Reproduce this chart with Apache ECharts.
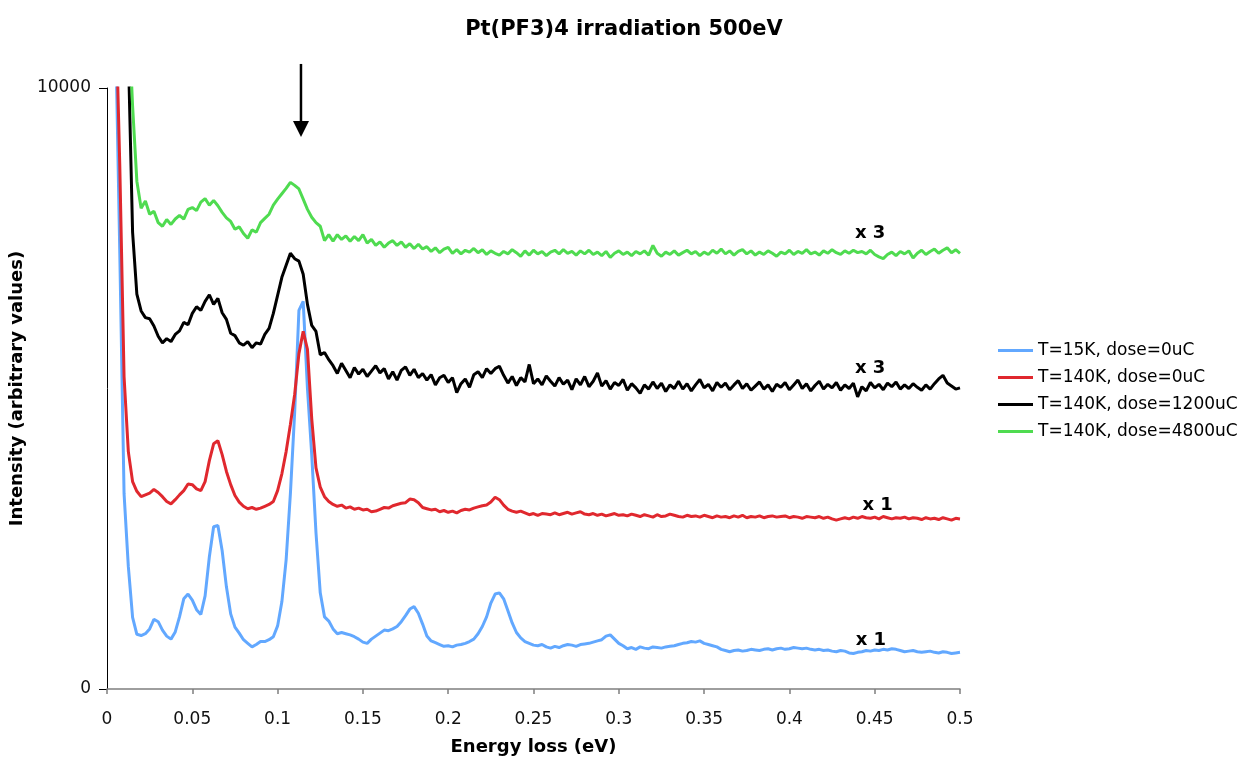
<!DOCTYPE html>
<html>
<head>
<meta charset="utf-8">
<script src="https://cdn.jsdelivr.net/npm/echarts@6/dist/echarts.min.js"></script>
<style>html,body{margin:0;padding:0;background:#fff;}#c{width:1248px;height:758px;}</style>
</head>
<body>
<div id="c"></div>
<script>
const energy = [
0.005,0.0075,0.01,0.0125,0.015,0.0175,0.02,0.0225,0.025,0.0275,
0.03,0.0325,0.035,0.0375,0.04,0.0425,0.045,0.0475,0.05,0.0525,
0.055,0.0575,0.06,0.0625,0.065,0.0675,0.07,0.0725,0.075,0.0775,
0.08,0.0825,0.085,0.0875,0.09,0.0925,0.095,0.0975,0.1,0.1025,
0.105,0.1075,0.11,0.1125,0.115,0.1175,0.12,0.1225,0.125,0.1275,
0.13,0.1325,0.135,0.1375,0.14,0.1425,0.145,0.1475,0.15,0.1525,
0.155,0.1575,0.16,0.1625,0.165,0.1675,0.17,0.1725,0.175,0.1775,
0.18,0.1825,0.185,0.1875,0.19,0.1925,0.195,0.1975,0.2,0.2025,
0.205,0.2075,0.21,0.2125,0.215,0.2175,0.22,0.2225,0.225,0.2275,
0.23,0.2325,0.235,0.2375,0.24,0.2425,0.245,0.2475,0.25,0.2525,
0.255,0.2575,0.26,0.2625,0.265,0.2675,0.27,0.2725,0.275,0.2775,
0.28,0.2825,0.285,0.2875,0.29,0.2925,0.295,0.2975,0.3,0.3025,
0.305,0.3075,0.31,0.3125,0.315,0.3175,0.32,0.3225,0.325,0.3275,
0.33,0.3325,0.335,0.3375,0.34,0.3425,0.345,0.3475,0.35,0.3525,
0.355,0.3575,0.36,0.3625,0.365,0.3675,0.37,0.3725,0.375,0.3775,
0.38,0.3825,0.385,0.3875,0.39,0.3925,0.395,0.3975,0.4,0.4025,
0.405,0.4075,0.41,0.4125,0.415,0.4175,0.42,0.4225,0.425,0.4275,
0.43,0.4325,0.435,0.4375,0.44,0.4425,0.445,0.4475,0.45,0.4525,
0.455,0.4575,0.46,0.4625,0.465,0.4675,0.47,0.4725,0.475,0.4775,
0.48,0.4825,0.485,0.4875,0.49,0.4925,0.495,0.4975,0.5
];

const blue15K = [
11000,7250,3250,2040,1190,910,890,920,1000,1160,
1120,980,880,830,950,1200,1500,1580,1480,1320,
1240,1550,2200,2700,2720,2300,1700,1250,1030,930,
820,760,700,740,790,790,820,870,1050,1450,
2150,3250,4600,6300,6450,5000,3900,2600,1600,1200,
1130,1000,920,940,920,900,870,830,780,760,
830,880,930,980,970,1000,1040,1120,1220,1330,
1370,1260,1080,880,800,770,740,710,720,700,
730,740,760,790,830,920,1040,1200,1430,1580,
1600,1500,1300,1100,940,850,790,760,730,720,
740,700,680,710,690,720,740,730,710,740,
750,760,780,800,820,880,900,830,760,720,
670,690,660,700,680,670,700,690,680,700,
710,720,740,760,770,790,780,800,760,740,
720,700,660,640,620,640,650,630,640,660,
650,640,660,670,650,670,680,660,670,690,
680,670,680,660,650,660,640,650,630,620,
640,630,600,590,610,620,640,630,650,640,
660,650,670,660,640,620,630,640,620,610,
620,630,610,600,620,610,590,600,610
];

const red140K = [
11500,8700,5200,3950,3450,3290,3200,3230,3260,3320,
3270,3200,3120,3080,3150,3230,3300,3410,3400,3330,
3300,3450,3800,4080,4130,3900,3620,3400,3220,3110,
3040,3000,3020,2990,3010,3040,3070,3120,3300,3580,
3950,4400,4900,5580,5950,5650,4500,3680,3360,3200,
3120,3070,3040,3060,3010,3030,2990,3010,2980,2990,
2950,2960,2990,3020,3010,3050,3070,3090,3100,3160,
3150,3100,3020,3000,2980,2990,2950,2970,2940,2960,
2930,2970,2990,2980,3010,3030,3050,3060,3110,3190,
3150,3060,2990,2960,2940,2960,2930,2900,2920,2890,
2920,2910,2900,2930,2900,2920,2940,2910,2930,2950,
2910,2900,2920,2890,2910,2880,2900,2920,2890,2900,
2880,2910,2890,2870,2900,2880,2860,2900,2870,2880,
2910,2890,2870,2860,2890,2870,2880,2860,2890,2870,
2850,2880,2860,2870,2850,2880,2860,2890,2850,2870,
2860,2880,2850,2870,2880,2860,2870,2880,2850,2870,
2860,2840,2870,2860,2850,2870,2840,2860,2830,2810,
2830,2850,2830,2860,2840,2870,2850,2840,2860,2830,
2870,2850,2830,2850,2840,2860,2830,2850,2840,2820,
2850,2830,2840,2820,2850,2830,2810,2840,2830
];

const black1200 = [
30000,22000,15000,10600,7600,6570,6290,6180,6160,6040,
5870,5760,5830,5780,5900,5960,6100,6060,6250,6360,
6300,6450,6560,6400,6500,6260,6150,5920,5880,5760,
5720,5780,5680,5760,5740,5900,6000,6250,6550,6850,
7050,7250,7160,7120,6900,6400,6050,5950,5560,5600,
5480,5380,5250,5420,5300,5180,5350,5240,5320,5200,
5290,5380,5260,5330,5160,5280,5140,5300,5360,5220,
5320,5180,5250,5140,5230,5060,5180,5220,5100,5180,
4930,5080,5160,5020,5230,5280,5180,5330,5250,5330,
5370,5220,5090,5200,5050,5180,5110,5400,5080,5160,
5060,5210,5120,5040,5180,5070,5140,4980,5160,5060,
5200,5030,5120,5260,5040,5130,4990,5100,5050,5150,
4970,5080,5010,4920,5060,4990,5110,5000,5090,4950,
5060,5000,5120,4990,5080,4960,5060,5150,5010,5070,
4960,5100,5020,5090,4980,5060,5130,5000,5080,4970,
5040,5110,4990,5060,4950,5070,5020,5100,4980,5060,
5140,5000,5080,4960,5050,5120,4990,5070,5010,5100,
4970,5060,5000,5090,4860,5030,4960,5100,5010,5070,
4980,5090,5030,5110,4990,5060,5000,5080,5020,4970,
5060,4990,5080,5160,5220,5090,5040,4990,5010
];

const green4800 = [
30000,22000,16000,11300,9700,8450,8000,8120,7900,7950,
7760,7700,7810,7730,7820,7880,7820,7980,8010,7960,
8100,8160,8050,8130,8040,7930,7840,7780,7650,7690,
7580,7500,7640,7600,7760,7830,7900,8050,8150,8240,
8330,8430,8380,8320,8150,7980,7850,7760,7700,7460,
7560,7450,7560,7480,7540,7450,7530,7460,7560,7420,
7480,7380,7440,7350,7420,7460,7380,7440,7350,7410,
7330,7400,7320,7360,7280,7340,7260,7320,7350,7250,
7310,7240,7300,7270,7330,7260,7310,7230,7290,7250,
7220,7280,7240,7310,7260,7200,7290,7220,7300,7240,
7280,7210,7270,7300,7240,7310,7250,7280,7220,7290,
7240,7300,7230,7270,7210,7280,7180,7250,7290,7230,
7270,7210,7280,7240,7290,7220,7380,7250,7200,7270,
7230,7290,7220,7260,7300,7240,7280,7210,7270,7230,
7300,7250,7320,7240,7290,7220,7280,7310,7240,7290,
7220,7270,7230,7290,7250,7200,7270,7240,7300,7230,
7280,7250,7310,7240,7270,7220,7290,7250,7310,7260,
7230,7290,7250,7300,7260,7280,7240,7300,7230,7190,
7160,7230,7270,7210,7280,7240,7290,7170,7250,7300,
7230,7280,7320,7250,7300,7340,7260,7310,7250
];

const seriesNames = ['T=15K, dose=0uC','T=140K, dose=0uC','T=140K, dose=1200uC','T=140K, dose=4800uC'];
const seriesValues = [blue15K, red140K, black1200, green4800];
const seriesColors = ['#62a8ff','#e0282e','#000000','#4fdb50'];

const yTicks = [0, 10000];
const xMin = 0, xMax = 0.5, xStep = 0.05;

// annotations in data coordinates
const notes = [
  {text:'x 3', x:0.4473, y:7588},
  {text:'x 3', x:0.4473, y:5342},
  {text:'x 1', x:0.4517, y:3062},
  {text:'x 1', x:0.4478, y:815}
];
const arrowX = 0.1137, arrowTop = 10400, arrowHeadBase = 9450, arrowTip = 9185;

const FONT = 'DejaVu Sans';
const chart = echarts.init(document.getElementById('c'));

const option = {
  animation:false,
  backgroundColor:'#fff',
  title:{
    text:'Pt(PF3)4 irradiation 500eV',
    left:'center', top:14,
    textStyle:{fontFamily:FONT, fontSize:21, fontWeight:'bold', color:'#000'}
  },
  legend:{
    orient:'vertical', left:998, top:342, padding:0,
    itemWidth:35, itemHeight:3, itemGap:10, icon:'rect',
    textStyle:{fontFamily:FONT, fontSize:17, color:'#000', lineHeight:17},
    data:seriesNames
  },
  grid:{left:107, right:288, top:88, bottom:69, containLabel:false, outerBoundsMode:'none'},
  xAxis:{
    type:'value', min:xMin, max:xMax, interval:xStep,
    name:'Energy loss (eV)', nameLocation:'middle', nameGap:49,
    nameTextStyle:{fontFamily:FONT, fontSize:18, fontWeight:'bold', color:'#000'},
    axisLine:{show:true, onZero:false, lineStyle:{color:'#7f7f7f', width:1.5}},
    axisTick:{show:true, length:5, lineStyle:{color:'#7f7f7f', width:1.5}},
    axisLabel:{fontFamily:FONT, fontSize:17, color:'#111', margin:22},
    splitLine:{show:false}
  },
  yAxis:{
    type:'value', min:yTicks[0], max:yTicks[1], interval:yTicks[1]-yTicks[0],
    name:'Intensity (arbitrary values)', nameLocation:'middle', nameGap:69,
    nameTextStyle:{fontFamily:FONT, fontSize:18, fontWeight:'bold', color:'#000'},
    axisLine:{show:true, onZero:false, lineStyle:{color:'#000', width:1}},
    axisTick:{show:true, length:8, lineStyle:{color:'#000', width:1}},
    axisLabel:{fontFamily:FONT, fontSize:17, color:'#111', margin:16, formatter:v => String(v)},
    splitLine:{show:false}
  },
  series: seriesNames.map((n, k) => ({
    name:n, type:'line', showSymbol:false, symbol:'none', clip:true,
    color:seriesColors[k],
    lineStyle:{color:seriesColors[k], width:3},
    data: energy.map((e, i) => [e, seriesValues[k][i]])
  }))
};
chart.setOption(option);

function px(x, y){ return chart.convertToPixel({gridIndex:0}, [x, y]); }
const graphics = [];
notes.forEach(n => {
  const p = px(n.x, n.y);
  graphics.push({type:'text', x:p[0], y:p[1], silent:true,
    style:{text:n.text, fontFamily:FONT, fontSize:18, fontWeight:'bold', fill:'#000', align:'center', verticalAlign:'middle'}});
});
const a0 = px(arrowX, arrowTop), a1 = px(arrowX, arrowHeadBase), a2 = px(arrowX, arrowTip);
graphics.push({type:'line', silent:true, shape:{x1:a0[0], y1:a0[1], x2:a1[0], y2:a1[1]+2}, style:{stroke:'#000', lineWidth:2.5}});
graphics.push({type:'polygon', silent:true, shape:{points:[[a1[0]-8, a1[1]],[a1[0]+8, a1[1]],[a2[0], a2[1]]]}, style:{fill:'#000'}});
chart.setOption({graphic:graphics});
</script>
</body>
</html>
